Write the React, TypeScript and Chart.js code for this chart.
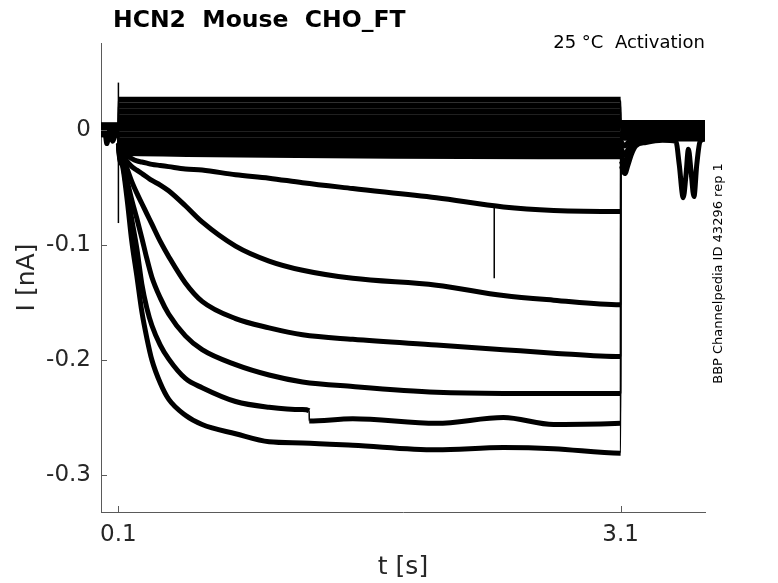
import React, { useEffect, useRef } from "react";
import { Chart, registerables, ChartConfiguration, Plugin } from "chart.js";

Chart.register(...registerables);

// tick positions and their labels
const xTickValues = [0.1, 3.1];
const xTickLabels = ["0.1", "3.1"];
const yTickValues = [0, -0.1, -0.2, -0.3];
const yTickLabels = ["0", "-0.1", "-0.2", "-0.3"];

// sample times [s] before, during and after the voltage step
const preTimes = [-0.004, 0.02, 0.031, 0.045, 0.066, 0.085, 0.0995];
const stepTimes = [
  0.1, 0.12, 0.15, 0.18, 0.21, 0.24, 0.27, 0.3, 0.35, 0.4, 0.5, 0.6, 0.8, 1.0,
  1.2, 1.5, 2.0, 2.4, 2.7, 3.1,
];
// sweep E has a small offset jump at ~1.24 s, so it is sampled there too
const stepTimesE = [
  0.1, 0.12, 0.15, 0.18, 0.21, 0.24, 0.27, 0.3, 0.35, 0.4, 0.5, 0.6, 0.8, 1.0,
  1.2, 1.2395, 1.24, 1.5, 2.0, 2.4, 2.7, 3.1,
];
const postTimes = [
  3.1005, 3.115, 3.125, 3.145, 3.165, 3.19, 3.25, 3.35, 3.43, 3.45, 3.474,
  3.49, 3.505, 3.52, 3.538, 3.555, 3.575, 3.604,
];

// sweeps that activate (current in nA)
const preA = [-0.002, -0.003, -0.012, -0.003, -0.01, -0.003, -0.002];
const preB = [0.002, 0.002, 0.002, 0.002, 0.002, 0.002, 0.002];
const preC = [-0.001, -0.001, -0.001, -0.001, -0.001, -0.001, -0.001];
const preD = [0.001, 0.001, 0.001, 0.001, 0.001, 0.001, 0.001];
const preE = [-0.002, -0.002, -0.002, -0.002, -0.002, -0.002, -0.002];
const preF = [0.0, 0.0, 0.0, 0.0, 0.0, 0.0, 0.0];

const stepA = [
  -0.012, -0.018, -0.022, -0.025, -0.027, -0.028, -0.029, -0.03, -0.031, -0.032,
  -0.034, -0.035, -0.039, -0.042, -0.046, -0.051, -0.059, -0.067, -0.07,
  -0.071,
];
const stepB = [
  -0.012, -0.02, -0.027, -0.032, -0.035, -0.038, -0.041, -0.044, -0.048,
  -0.053, -0.066, -0.08, -0.101, -0.114, -0.122, -0.129, -0.135, -0.144,
  -0.148, -0.152,
];
const stepC = [
  -0.012, -0.022, -0.033, -0.045, -0.055, -0.064, -0.073, -0.082, -0.097,
  -0.11, -0.133, -0.149, -0.164, -0.172, -0.178, -0.182, -0.187, -0.191,
  -0.194, -0.197,
];
const stepD = [
  -0.012, -0.025, -0.043, -0.061, -0.077, -0.094, -0.112, -0.128, -0.146,
  -0.16, -0.179, -0.191, -0.204, -0.213, -0.219, -0.223, -0.228, -0.229,
  -0.229, -0.229,
];
const stepE = [
  -0.012, -0.028, -0.052, -0.078, -0.103, -0.134, -0.155, -0.17, -0.187,
  -0.199, -0.216, -0.224, -0.236, -0.241, -0.243, -0.244, -0.253, -0.251,
  -0.255, -0.25, -0.256, -0.255,
];
const stepF = [
  -0.012, -0.03, -0.058, -0.097, -0.127, -0.158, -0.181, -0.2, -0.22, -0.234,
  -0.248, -0.256, -0.264, -0.271, -0.272, -0.274, -0.278, -0.276, -0.277,
  -0.281,
];

const tailA = [
  -0.005, -0.006, -0.006, -0.005, -0.005, -0.004, -0.004, -0.003, -0.003,
  -0.003, -0.003, -0.003, -0.003, -0.003, -0.003, -0.003, -0.003, -0.003,
];
const tailB = [
  -0.01, -0.013, -0.014, -0.011, -0.009, -0.007, -0.005, -0.004, -0.004,
  -0.004, -0.004, -0.004, -0.004, -0.004, -0.004, -0.004, -0.004, -0.004,
];
const tailC = [
  -0.016, -0.02, -0.022, -0.017, -0.013, -0.009, -0.007, -0.006, -0.006,
  -0.006, -0.006, -0.006, -0.006, -0.006, -0.006, -0.006, -0.006, -0.006,
];
const tailD = [
  -0.022, -0.027, -0.029, -0.022, -0.016, -0.011, -0.008, -0.007, -0.007,
  -0.007, -0.007, -0.007, -0.007, -0.007, -0.007, -0.007, -0.007, -0.007,
];
const tailE = [
  -0.026, -0.032, -0.034, -0.026, -0.018, -0.012, -0.009, -0.008, -0.008,
  -0.008, -0.008, -0.008, -0.008, -0.008, -0.008, -0.008, -0.008, -0.008,
];
const tailF = [
  -0.03, -0.036, -0.038, -0.03, -0.021, -0.014, -0.011, -0.009, -0.01, -0.03,
  -0.059, -0.04, -0.017, -0.035, -0.058, -0.03, -0.01, -0.008,
];

// sweeps that stay near zero: level before, at start / end of the step, after
const bandPre = [0.004, 0.003, 0.003, 0.002, 0.001, 0.0, -0.001, -0.002, -0.003, -0.003, -0.004];
const bandStart = [0.026, 0.021, 0.016, 0.011, 0.006, 0.001, -0.004, -0.009, -0.014, -0.018, -0.02];
const bandEnd = [0.026, 0.021, 0.016, 0.011, 0.006, 0.001, -0.004, -0.009, -0.014, -0.019, -0.023];
const bandPost = [0.006, 0.005, 0.004, 0.002, 0.001, 0.0, -0.001, -0.003, -0.004, -0.006, -0.007];

// single-sample artefacts (capacitive spike at onset, glitch in smallest sweep)
const onsetTimes = [0.1, 0.1];
const onsetValues = [0.041, -0.081];
const glitchTimes = [2.345, 2.345];
const glitchValues = [-0.066, -0.129];

const titleText = "HCN2  Mouse  CHO_FT";
const conditionText = "25 °C  Activation";
const sourceText = "BBP Channelpedia ID 43296 rep 1";

const textColor = "#262626";
const axisColor = "#5a5a5a";

const pts = (times: number[], values: number[]) =>
  times.map((t, i) => ({ x: t, y: values[i] }));

const traceDataset = (data: { x: number; y: number }[], width: number) => ({
  data,
  borderColor: "#000",
  borderWidth: width,
  pointRadius: 0,
  fill: false,
  cubicInterpolationMode: "monotone" as const,
  borderJoinStyle: "round" as const,
  segment: {
    // jumps between samples are drawn thin, like the single-sample steps
    borderWidth: (c: any) =>
      c.p1.parsed.x - c.p0.parsed.x < 0.002 ? 1.5 : width,
  },
});

const overlayPlugin: Plugin = {
  id: "overlay",
  afterDraw(chart) {
    const { ctx, chartArea, scales } = chart;
    ctx.save();
    // inward tick marks
    ctx.strokeStyle = axisColor;
    ctx.lineWidth = 1;
    ctx.beginPath();
    yTickValues.forEach((v) => {
      const py = Math.round(scales.y.getPixelForValue(v)) + 0.5;
      ctx.moveTo(chartArea.left, py);
      ctx.lineTo(chartArea.left + 6, py);
    });
    xTickValues.forEach((v) => {
      const px = Math.round(scales.x.getPixelForValue(v)) + 0.5;
      ctx.moveTo(px, chartArea.bottom);
      ctx.lineTo(px, chartArea.bottom - 6);
    });
    ctx.stroke();

    ctx.fillStyle = "#000";
    ctx.textBaseline = "alphabetic";
    ctx.font = "bold 23.5px 'DejaVu Sans'";
    ctx.textAlign = "left";
    ctx.fillText(titleText, 113, 27);

    ctx.font = "18px 'DejaVu Sans'";
    ctx.textAlign = "right";
    ctx.fillText(conditionText, chartArea.right, 47.5);

    ctx.font = "13px 'DejaVu Sans'";
    ctx.textAlign = "center";
    ctx.translate(722, 273.5);
    ctx.rotate(-Math.PI / 2);
    ctx.fillText(sourceText, 0, 0);
    ctx.restore();
  },
};

const buildConfig = (): ChartConfiguration => {
  const active = [
    [preA, stepTimes, stepA, tailA],
    [preB, stepTimes, stepB, tailB],
    [preC, stepTimes, stepC, tailC],
    [preD, stepTimes, stepD, tailD],
    [preE, stepTimesE, stepE, tailE],
    [preF, stepTimes, stepF, tailF],
  ];
  const datasets: any[] = [];
  bandPre.forEach((_, i) => {
    datasets.push(
      traceDataset(
        [
          { x: preTimes[0], y: bandPre[i] },
          { x: preTimes[preTimes.length - 1], y: bandPre[i] },
          { x: stepTimes[0], y: bandStart[i] },
          { x: stepTimes[stepTimes.length - 1], y: bandEnd[i] },
          { x: postTimes[0], y: bandPost[i] },
          { x: postTimes[postTimes.length - 1], y: bandPost[i] },
        ],
        6
      )
    );
  });
  active.forEach(([pre, times, step, tail]) => {
    datasets.push(
      traceDataset(
        [...pts(preTimes, pre), ...pts(times, step), ...pts(postTimes, tail)],
        5
      )
    );
  });
  datasets.push(traceDataset(pts(onsetTimes, onsetValues), 1.5));
  datasets.push(traceDataset(pts(glitchTimes, glitchValues), 1.5));

  return {
    type: "line",
    data: { datasets },
    options: {
      responsive: false,
      maintainAspectRatio: false,
      animation: false,
      events: [],
      layout: { padding: { left: 0, right: 73, top: 43, bottom: 0 } },
      plugins: {
        legend: { display: false },
        tooltip: { enabled: false },
        title: { display: false },
      },
      scales: {
        x: {
          type: "linear",
          min: -0.004,
          max: 3.604,
          grid: { display: false, drawTicks: false },
          border: { display: true, color: axisColor, width: 1 },
          afterBuildTicks: (s: any) => {
            s.ticks = xTickValues.map((v) => ({ value: v }));
          },
          afterFit: (s: any) => {
            s.height = 71;
          },
          ticks: {
            autoSkip: false,
            maxRotation: 0,
            padding: 9,
            color: textColor,
            font: { family: "'DejaVu Sans'", size: 23 },
            callback: (_v: any, i: number) => xTickLabels[i],
          },
          title: {
            display: true,
            text: "t [s]",
            color: textColor,
            font: { family: "'DejaVu Sans'", size: 25 },
            padding: { top: 0, bottom: 1 },
          },
        },
        y: {
          type: "linear",
          min: -0.332,
          max: 0.0754,
          grid: { display: false, drawTicks: false },
          border: { display: true, color: axisColor, width: 1 },
          afterBuildTicks: (s: any) => {
            s.ticks = yTickValues.map((v) => ({ value: v }));
          },
          afterFit: (s: any) => {
            s.width = 101;
          },
          ticks: {
            autoSkip: false,
            padding: 10,
            color: textColor,
            font: { family: "'DejaVu Sans'", size: 23 },
            callback: (_v: any, i: number) => yTickLabels[i],
          },
          title: {
            display: true,
            text: "I [nA]",
            color: textColor,
            font: { family: "'DejaVu Sans'", size: 25 },
            padding: { top: 12, bottom: 0 },
          },
        },
      },
    },
    plugins: [overlayPlugin],
  } as ChartConfiguration;
};

const App = () => {
  const canvasRef = useRef<HTMLCanvasElement | null>(null);

  useEffect(() => {
    if (!canvasRef.current) return;
    const chart = new Chart(canvasRef.current, buildConfig());
    return () => {
      chart.destroy();
    };
  }, []);

  return (
    <div
      style={{
        position: "absolute",
        left: 0,
        top: 0,
        width: 778,
        height: 583,
        background: "#fff",
      }}
    >
      <canvas ref={canvasRef} width={778} height={583} style={{ display: "block" }} />
    </div>
  );
};

export default App;
